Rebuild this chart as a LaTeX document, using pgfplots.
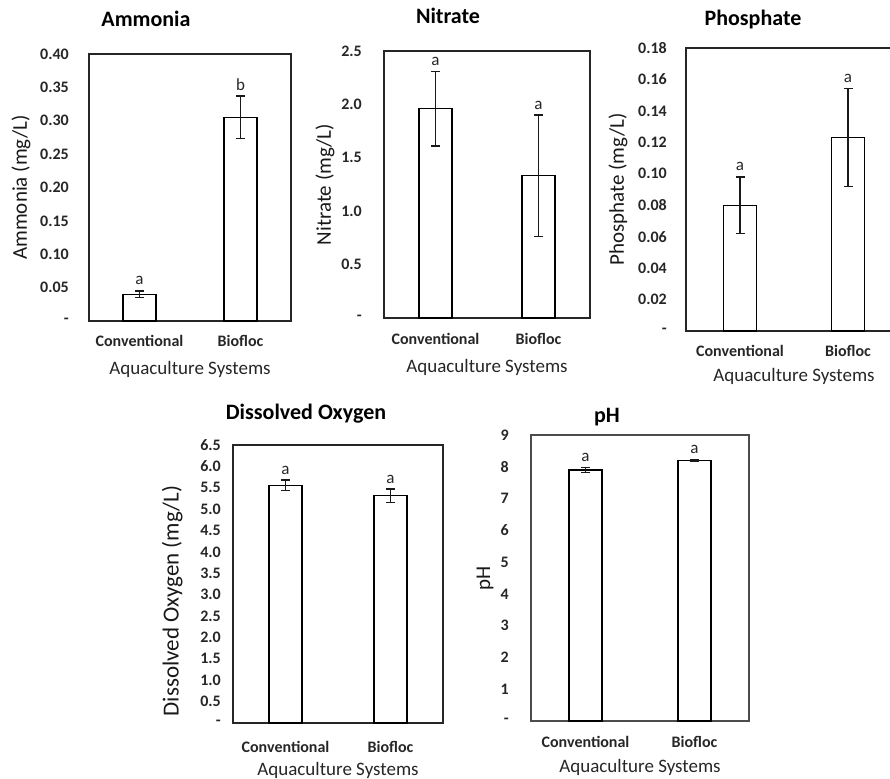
\documentclass[border=0pt]{standalone}
\usepackage{fontspec}
\setmainfont{Carlito}
\usepackage{pgfplots}
\pgfplotsset{compat=1.18}

\pgfplotsset{
  panel/.style={
    scale only axis, anchor=south west,
    xmin=-0.5, xmax=1.5, ymin=0,
    xtick={0,1}, xticklabels={Conventional,Biofloc},
    major tick length=0pt, minor tick num=0,
    axis line style={line width=1.1pt, black!85},
    tick label style={text=black!85},
    xticklabel style={font=\fontsize{16}{18}\selectfont\bfseries, anchor=base, inner sep=0pt},
    yticklabel style={font=\fontsize{16}{18}\selectfont\bfseries, anchor=east, inner sep=0pt},
    xlabel={Aquaculture Systems},
    xlabel style={font=\fontsize{19}{22}\selectfont, text=black!85, anchor=base, inner sep=0pt, at={(axis description cs:0.5,0)}},
    ylabel style={font=\fontsize{21}{24}\selectfont, text=black!90, anchor=center, inner sep=0pt},
    title style={font=\fontsize{22}{26}\selectfont\bfseries, anchor=base, inner sep=0pt, at={(axis description cs:0,1)}},
    clip=false,
  },
  bars/.style={ybar, bar width=33pt, fill=white, draw=black, line width=1.1pt,
    error bars/y dir=both, error bars/y explicit,
    error bars/error bar style={line width=1.2pt, black!90},
    error bars/error mark options={rotate=90, mark size=4.5pt, line width=1.2pt, black!90}},
  letters/.style={draw=none, nodes near coords, point meta=explicit symbolic,
    every node near coord/.append style={font=\fontsize{17}{20}\selectfont, text=black!85, anchor=base, yshift=6pt, inner sep=0pt}},
}

\begin{document}
\begin{tikzpicture}
\path[use as bounding box] (0,0) rectangle (890pt,778pt);

% Ammonia
\begin{axis}[panel, at={(89pt,457pt)}, width=202pt, height=267pt,
  ymax=0.40, ytick={0,0.05,...,0.40},
  yticklabels={{-\hspace{7pt}},0.05,0.10,0.15,0.20,0.25,0.30,0.35,0.40},
  yticklabel style={xshift=-20pt}, xticklabel style={yshift=-26pt},
  xlabel style={yshift=-54pt},
  ylabel={Ammonia (mg/L)}, ylabel style={at={(axis description cs:-0.337,0.5)}},
  title={Ammonia}, title style={xshift=57pt, yshift=21pt}]
\addplot[bars] coordinates {(0,0.040) +- (0,0.005) (1,0.305) +- (0,0.032)};
\addplot[letters] coordinates {(0,0.045)[a] (1,0.337)[b]};
\end{axis}

% Nitrate
\begin{axis}[panel, at={(384pt,460pt)}, width=206pt, height=267pt,
  ymax=2.5, ytick={0,0.5,...,2.5},
  yticklabels={{-\hspace{2pt}},0.5,1.0,1.5,2.0,2.5},
  yticklabel style={xshift=-22pt}, xticklabel style={yshift=-27pt},
  xlabel style={yshift=-55pt},
  ylabel={Nitrate (mg/L)}, ylabel style={at={(axis description cs:-0.286,0.5)}},
  title={Nitrate}, title style={xshift=64pt, yshift=21pt}]
\addplot[bars] coordinates {(0,1.96) +- (0,0.35) (1,1.33) +- (0,0.57)};
\addplot[letters] coordinates {(0,2.31)[a] (1,1.90)[a]};
\end{axis}

% Phosphate
\begin{axis}[panel, at={(686pt,447pt)}, width=216pt, height=283pt,
  ymax=0.18, ytick={0,0.02,...,0.18},
  yticklabels={{-\hspace{8pt}},0.02,0.04,0.06,0.08,0.10,0.12,0.14,0.16,0.18},
  yticklabel style={xshift=-19pt}, xticklabel style={yshift=-26pt},
  xlabel style={yshift=-51pt},
  ylabel={Phosphate (mg/L)}, ylabel style={at={(axis description cs:-0.315,0.5)}},
  title={Phosphate}, title style={xshift=67pt, yshift=16pt}]
\addplot[bars] coordinates {(0,0.080) +- (0,0.018) (1,0.123) +- (0,0.031)};
\addplot[letters] coordinates {(0,0.098)[a] (1,0.154)[a]};
\end{axis}

% Dissolved Oxygen
\begin{axis}[panel, at={(233pt,55pt)}, width=210pt, height=278pt,
  ymax=6.5, ytick={0,0.5,...,6.5},
  yticklabels={{-\hspace{10pt}},0.5,1.0,1.5,2.0,2.5,3.0,3.5,4.0,4.5,5.0,5.5,6.0,6.5},
  yticklabel style={xshift=-12pt}, xticklabel style={yshift=-29pt},
  xlabel style={yshift=-52pt},
  ylabel={Dissolved Oxygen (mg/L)},
  ylabel style={at={(axis description cs:-0.29,0.439)}, font=\fontsize{23}{26}\selectfont},
  title={Dissolved Oxygen}, title style={xshift=73pt, yshift=19pt}]
\addplot[bars] coordinates {(0,5.56) +- (0,0.12) (1,5.31) +- (0,0.16)};
\addplot[letters] coordinates {(0,5.68)[a] (1,5.47)[a]};
\end{axis}

% pH
\begin{axis}[panel, at={(531pt,57pt)}, width=218pt, height=286pt,
  axis line style={black!70},
  ymax=9, ytick={0,1,...,9},
  yticklabels={-,1,2,3,4,5,6,7,8,9},
  yticklabel style={xshift=-22pt}, xticklabel style={yshift=-26pt},
  xlabel style={yshift=-51pt},
  ylabel={pH}, ylabel style={at={(axis description cs:-0.211,0.5)}},
  title={pH}, title style={xshift=76pt, yshift=7pt}]
\addplot[bars] coordinates {(0,7.90) +- (0,0.09) (1,8.21) +- (0,0.03)};
\addplot[letters] coordinates {(0,7.99)[a] (1,8.24)[a]};
\end{axis}
\end{tikzpicture}
\end{document}
